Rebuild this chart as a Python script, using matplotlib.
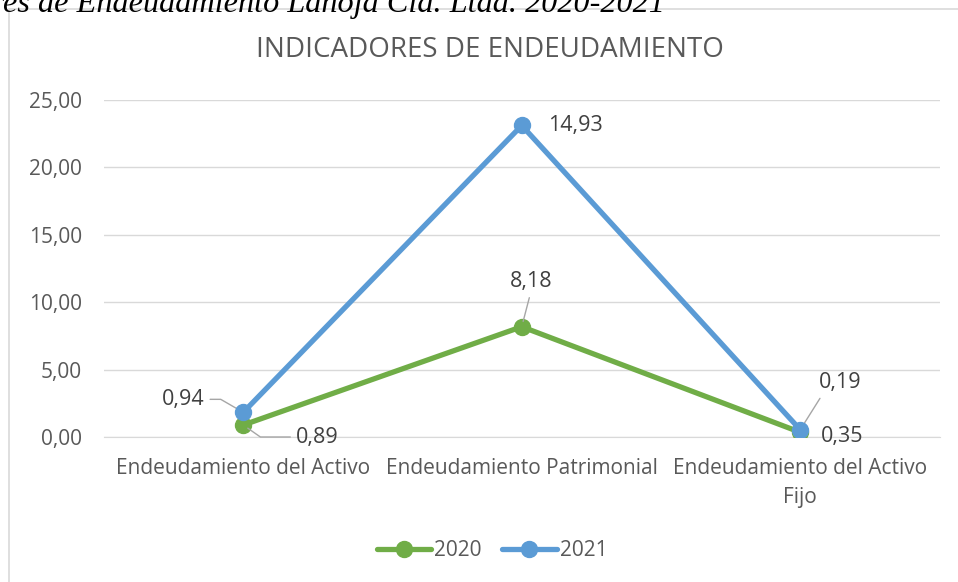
import matplotlib
matplotlib.use('Agg')
import matplotlib.pyplot as plt
from matplotlib.patches import Rectangle

categorias = ['Endeudamiento del Activo', 'Endeudamiento Patrimonial',
              'Endeudamiento del Activo\nFijo']
v2020 = [0.89, 8.18, 0.35]
v2021 = [0.94, 14.93, 0.19]
yticks = [0, 5, 10, 15, 20, 25]

verde = '#70AD47'
azul = '#5B9BD5'
gris = '#595959'

plt.rcParams['font.family'] = ['Open Sans', 'DejaVu Sans']

fig = plt.figure(figsize=(9.58, 5.82), dpi=100)
ax = fig.add_axes([104/958, 1-437/582, 835.5/958, 337/582])

# lineas apiladas (como en Excel)
x = list(range(len(categorias)))
apil = [a + b for a, b in zip(v2020, v2021)]
ax.plot(x, v2020, color=verde, lw=3.8, marker='o', ms=11.5, label='2020',
        solid_capstyle='round', zorder=3)
ax.plot(x, apil, color=azul, lw=3.8, marker='o', ms=11.5, label='2021',
        solid_capstyle='round', zorder=4)

ax.set_xlim(-0.5, 2.5)
ax.set_ylim(0, 25)
ax.set_yticks(yticks)
ax.set_yticklabels(['{:.2f}'.format(v).replace('.', ',') for v in yticks])
ax.set_xticks(x)
ax.set_xticklabels(categorias, linespacing=1.5)
ax.tick_params(length=0, labelsize=15, colors=gris)
ax.tick_params(axis='x', pad=15)
ax.tick_params(axis='y', pad=16)
ax.grid(axis='y', color='#D9D9D9', lw=1)
ax.set_axisbelow(True)
for s in ['top', 'right', 'left']:
    ax.spines[s].set_visible(False)
ax.spines['bottom'].set_color('#D9D9D9')

def fmt(v):
    return '{:.2f}'.format(v).replace('.', ',')

fs = 15.5
lead = dict(arrowstyle='-', color='#A6A6A6', lw=1, shrinkA=2, shrinkB=4)
# etiquetas 2020
ax.annotate(fmt(v2020[0]), (0, v2020[0]), xytext=(74, -12), textcoords='offset pixels',
            ha='center', va='center', fontsize=fs, color='#404040',
            arrowprops=dict(lead, relpos=(0, 0.5),
                            connectionstyle='angle,angleA=0,angleB=-35,rad=0'))
ax.annotate(fmt(v2020[1]), (1, v2020[1]), xytext=(9, 45), textcoords='offset pixels',
            ha='center', va='center', fontsize=fs, color='#404040',
            arrowprops=dict(lead, relpos=(0.5, 0)))
ax.annotate(fmt(v2020[2]), (2, v2020[2]), xytext=(42, -4), textcoords='offset pixels',
            ha='center', va='center', fontsize=fs, color='#404040')
# etiquetas 2021
ax.annotate(fmt(v2021[0]), (0, apil[0]), xytext=(-60, 13), textcoords='offset pixels',
            ha='center', va='center', fontsize=fs, color='#404040',
            arrowprops=dict(lead, relpos=(1, 0.5),
                            connectionstyle='angle,angleA=0,angleB=-30,rad=0'))
ax.annotate(fmt(v2021[1]), (1, apil[1]), xytext=(54, 0), textcoords='offset pixels',
            ha='center', va='center', fontsize=fs, color='#404040')
ax.annotate(fmt(v2021[2]), (2, apil[2]), xytext=(40, 47), textcoords='offset pixels',
            ha='center', va='center', fontsize=fs, color='#404040',
            arrowprops=dict(lead, relpos=(0.1, 0)))

fig.text(490/958, 1-50/582, 'INDICADORES DE ENDEUDAMIENTO', ha='center', va='center',
         fontsize=20, color=gris)

fig.legend(loc='center', bbox_to_anchor=(492/958, 1-551/582), ncol=2, frameon=False,
           fontsize=15, labelcolor=gris, handlelength=2.6, columnspacing=1.0,
           handletextpad=0.15)

# borde del grafico
fig.patches.append(Rectangle((9/958, -0.1), 1.2, 1-9/582+0.1, transform=fig.transFigure,
                             fill=False, ec='#D9D9D9', lw=1.2))

# titulo del documento (cortado arriba)
fig.text(665/958, 1-12/582, 'Indicadores de Endeudamiento Lanoja Cía. Ltda. 2020-2021',
         ha='right', va='baseline', fontsize=23.2, style='italic',
         family=['Liberation Serif', 'DejaVu Serif'], color='black')

fig.savefig('out.png', dpi=100)
